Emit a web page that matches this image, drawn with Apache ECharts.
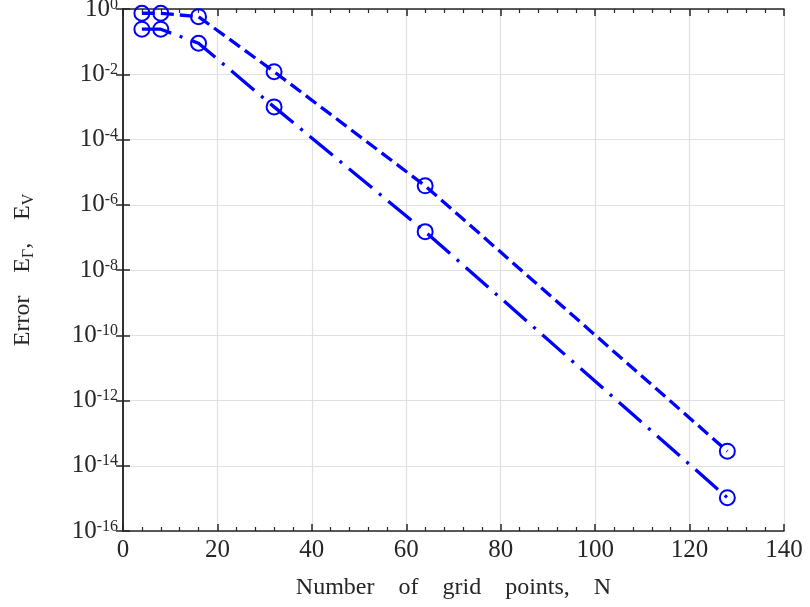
<!DOCTYPE html>
<html>
<head>
<meta charset="utf-8">
<script src="https://cdn.jsdelivr.net/npm/echarts@6/dist/echarts.min.js"></script>
<style>html,body{margin:0;padding:0;background:#fff;}#c{width:810px;height:607px;}</style>
</head>
<body>
<div id="c"></div>
<script>
const N = [4, 8, 16, 32, 64, 128];
const errUpper = [0.74, 0.74, 0.58, 1.2e-2, 3.8e-6, 2.8e-14];
const errLower = [0.24, 0.24, 0.089, 1.0e-3, 1.5e-7, 1.05e-15];
const xTicks = [0, 20, 40, 60, 80, 100, 120, 140];
const yExponents = [-16, -14, -12, -10, -8, -6, -4, -2, 0];

const FONT = 'Liberation Serif';
const AX = '#262626';
const BLUE = '#0000ff';
const GAP = '   \u2009';
const XGAP = '    ';

const chart = echarts.init(document.getElementById('c'), null, {renderer: 'canvas'});
function pairs(ys) { return N.map((n, i) => [n, ys[i]]); }
function yLabel(v) {
  const e = Math.round(Math.log10(v));
  return '{b|10}{s|' + e + '}';
}
const rich = {
  b: {fontFamily: FONT, fontSize: 25, color: AX, verticalAlign: 'bottom', lineHeight: 25},
  s: {fontFamily: FONT, fontSize: 16, color: AX, verticalAlign: 'top', padding: [0, 0, 14, 0], lineHeight: 16}
};
const xCommon = {
  type: 'value', min: xTicks[0], max: xTicks[xTicks.length - 1], interval: 20,
  axisLine: {show: true, onZero: false, lineStyle: {color: AX, width: 1.5}},
  axisTick: {show: true, inside: true, length: 7, lineStyle: {color: AX, width: 1.5}},
  minorTick: {show: true, splitNumber: 5, length: 4, lineStyle: {color: AX, width: 1.2}},
};
chart.setOption({
  animation: false,
  backgroundColor: '#fff',
  grid: {left: 123, right: 26, top: 9, bottom: 76, containLabel: false, outerBoundsMode: 'none'},
  xAxis: [
    Object.assign({}, xCommon, {
      position: 'bottom',
      name: ['Number', 'of', 'grid', 'points,', 'N'].join(XGAP),
      nameLocation: 'middle', nameGap: 45,
      nameTextStyle: {fontFamily: FONT, fontSize: 24, color: AX},
      axisLabel: {show: true, fontFamily: FONT, fontSize: 25, color: AX, margin: 7},
      splitLine: {show: true, lineStyle: {color: '#e0e0e0', width: 1.2}}
    }),
    Object.assign({}, xCommon, {
      position: 'top',
      axisLabel: {show: false},
      splitLine: {show: false}
    })
  ],
  yAxis: [
    {
      type: 'log', logBase: 10, min: 1e-16, max: 1, interval: 2,
      position: 'left',
      name: '{n|Error' + GAP + 'E}{sub|Γ}{n|,' + GAP + 'E}{sub|V}',
      nameLocation: 'middle', nameGap: 86, nameRotate: 90,
      nameTextStyle: {
        rich: {
          n: {fontFamily: FONT, fontSize: 24, color: AX},
          sub: {fontFamily: FONT, fontSize: 16, color: AX, verticalAlign: 'bottom', padding: [12, 0, 0, 0]}
        }
      },
      axisLine: {show: true, lineStyle: {color: AX, width: 1.5}},
      axisTick: {show: true, inside: true, length: 7, lineStyle: {color: AX, width: 1.5}},
      minorTick: {show: false},
      axisLabel: {show: true, formatter: yLabel, rich: rich, margin: 5},
      splitLine: {show: true, lineStyle: {color: '#e0e0e0', width: 1.2}}
    },
    {
      type: 'log', logBase: 10, min: 1e-16, max: 1, interval: 2,
      position: 'right',
      axisLine: {show: true, lineStyle: {color: AX, width: 1.5}},
      axisTick: {show: true, inside: true, length: 7, lineStyle: {color: AX, width: 1.5}},
      axisLabel: {show: false},
      splitLine: {show: false}
    }
  ],
  series: [
    {
      type: 'line', data: pairs(errUpper), xAxisIndex: 0, yAxisIndex: 0,
      symbol: 'circle', symbolSize: 15, showSymbol: true,
      lineStyle: {color: BLUE, width: 3.3, type: [13, 6]},
      itemStyle: {color: 'rgba(0,0,0,0)', borderColor: BLUE, borderWidth: 2},
      z: 3
    },
    {
      type: 'line', data: pairs(errLower), xAxisIndex: 0, yAxisIndex: 0,
      symbol: 'circle', symbolSize: 15, showSymbol: true,
      lineStyle: {color: BLUE, width: 3.3, type: [30, 9, 3, 9]},
      itemStyle: {color: 'rgba(0,0,0,0)', borderColor: BLUE, borderWidth: 2},
      z: 3
    }
  ]
});
</script>
</body>
</html>
